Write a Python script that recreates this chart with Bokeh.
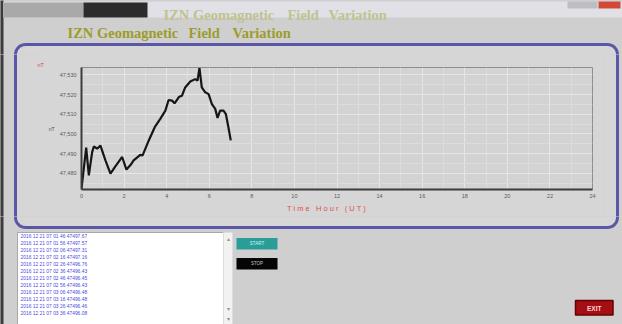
import numpy as np
from bokeh.plotting import figure
from bokeh.models import Range1d, FixedTicker
from bokeh.layouts import column, row
from bokeh.embed import file_html
from bokeh.resources import INLINE
from bokeh.core.properties import value

# ---------------- data ----------------
hours = [0.00, 0.22, 0.345, 0.50, 0.58, 0.735, 0.89, 1.125, 1.36, 1.59, 1.91, 2.11,
         2.30, 2.45, 2.76, 2.87, 3.16, 3.44, 3.70, 3.94, 4.09, 4.25, 4.37, 4.59,
         4.72, 4.87, 5.11, 5.34, 5.45, 5.54, 5.65, 5.81, 5.97, 6.12, 6.28, 6.39,
         6.51, 6.67, 6.78, 6.90, 7.01]
field_nt = [47472.3, 47493.0, 47479.0, 47490.8, 47493.6, 47492.5, 47494.1, 47486.6,
            47479.8, 47483.5, 47488.3, 47481.9, 47484.2, 47486.6, 47489.4, 47489.1,
            47496.7, 47503.4, 47507.6, 47511.8, 47517.2, 47516.9, 47515.5, 47518.9,
            47519.4, 47523.6, 47526.6, 47527.8, 47527.0, 47533.5, 47523.6, 47521.1,
            47520.2, 47515.2, 47512.7, 47508.1, 47511.8, 47511.8, 47510.1, 47503.4,
            47496.7]
x_ticks = [0, 2, 4, 6, 8, 10, 12, 14, 16, 18, 20, 22, 24]
y_ticks = [47480, 47490, 47500, 47510, 47520, 47530]
y_tick_labels = ["47,480", "47,490", "47,500", "47,510", "47,520", "47,530"]
log_lines = [
    "2016 12 21 07 01 46 47497.67",
    "2016 12 21 07 01 56 47497.57",
    "2016 12 21 07 02 06 47497.31",
    "2016 12 21 07 02 16 47497.16",
    "2016 12 21 07 02 26 47496.76",
    "2016 12 21 07 02 36 47496.43",
    "2016 12 21 07 02 46 47496.45",
    "2016 12 21 07 02 56 47496.43",
    "2016 12 21 07 03 06 47496.48",
    "2016 12 21 07 03 16 47496.48",
    "2016 12 21 07 03 26 47496.46",
    "2016 12 21 07 03 36 47496.08",
]
app_title = ["IZN Geomagnetic", "Field", "Variation"]

# ---------------- style ----------------
W, H = 622, 324
WIN_BG = "#cfcfcf"
PANEL_BG = "#d6d6d6"
PLOT_BG = "#d3d3d3"
PANEL_LINE = "#5a58a6"
TITLE_COL = "#9c9c2c"
SERIF = value("Liberation Serif")
SANS = value("Liberation Sans")


def rounded_rect(x0, y0, x1, y1, r, n=10):
    xs, ys = [], []
    corners = [((x0 + r, y0 + r), np.pi, 1.5 * np.pi),
               ((x1 - r, y0 + r), 1.5 * np.pi, 2 * np.pi),
               ((x1 - r, y1 - r), 0.0, 0.5 * np.pi),
               ((x0 + r, y1 - r), 0.5 * np.pi, np.pi)]
    for (cx, cy), a0, a1 in corners:
        t = np.linspace(a0, a1, n)
        xs.extend(cx + r * np.cos(t))
        ys.extend(cy + r * np.sin(t))
    return xs, ys


def draw_shapes(p):
    p.quad(left=-5, right=W + 5, top=-5, bottom=H + 5, fill_color=WIN_BG, line_color=None)
    p.quad(left=-5, right=3, top=-5, bottom=H + 5, fill_color="#3c3c3c", line_color=None)
    # window title bar
    p.quad(left=3, right=W, top=1, bottom=17, fill_color="#e0e0e6", line_color=None)
    p.quad(left=3, right=83, top=2, bottom=17, fill_color="#a9a9a9", line_color=None)
    p.quad(left=83, right=147, top=2, bottom=17, fill_color="#2c2c2c", line_color=None)
    p.quad(left=567, right=597, top=1, bottom=8, fill_color="#bdbdc4", line_color=None)
    p.quad(left=598, right=620, top=1, bottom=8, fill_color="#d24a36", line_color=None)
    # chart panel
    xs, ys = rounded_rect(15, 44, 617, 227, 10)
    p.patch(xs, ys, fill_color=PANEL_BG, line_color=PANEL_LINE, line_width=3)
    # log list box
    p.quad(left=17, right=232, top=232, bottom=330, fill_color="white", line_color="#a8a8a8")
    p.quad(left=223, right=232, top=232, bottom=330, fill_color="#f2f2f2", line_color="#dddddd")
    # buttons
    p.quad(left=236, right=277, top=237.5, bottom=249, fill_color="#2a9d99", line_color=None)
    p.quad(left=236, right=277, top=257.5, bottom=269, fill_color="#050505", line_color=None)
    p.quad(left=575, right=612.5, top=300, bottom=314.5, fill_color="#a30f12",
           line_color="#6a0000", line_width=1.5)


def strip(x0, x1, y0, y1):
    p = figure(width=int(x1 - x0), height=int(y1 - y0),
               x_range=Range1d(x0, x1), y_range=Range1d(y1, y0),
               x_axis_location=None, y_axis_location=None, min_border=0,
               toolbar_location=None, output_backend="svg", title=None,
               background_fill_color=WIN_BG, border_fill_color=WIN_BG,
               outline_line_color=None, frame_align=False)
    p.grid.visible = False
    draw_shapes(p)
    return p


# ---------- top band: window title bar and application title ----------
top_fig = strip(0, W, 0, 54)
for xx, word in zip([163, 287, 328], app_title):
    top_fig.text(x=[xx], y=[14.5], text=[word], text_font=SERIF, text_font_style="bold",
                 text_font_size="14.5px", text_color="#c0c38f", text_baseline="alphabetic")
for xx, word in zip([67, 188, 232], app_title):
    top_fig.text(x=[xx], y=[32.5], text=[word], text_font=SERIF, text_font_style="bold",
                 text_font_size="14.5px", text_color=TITLE_COL, text_baseline="alphabetic")

# ---------- side bands beside the chart ----------
left_fig = strip(0, 45, 54, 216)
left_fig.text(x=[37], y=[64], text=["nT"], text_font=SANS, text_font_size="5.5px",
              text_color="#e04848", text_baseline="middle")
right_fig = strip(604, W, 54, 216)

# ---------- bottom band: log list and buttons ----------
bottom_fig = strip(0, W, 216, 324)
bottom_fig.text(x=[227.5], y=[238], text=["\u25b4"], text_font_size="6px",
                text_color="#909090", text_align="center", text_baseline="middle")
bottom_fig.text(x=[227.5, 227.5], y=[308, 318], text=["\u25be", "\u25be"],
                text_font_size="6px", text_color="#909090", text_align="center",
                text_baseline="middle")
ly = [235.5 + 7 * i for i in range(len(log_lines))]
bottom_fig.text(x=[20] * len(log_lines), y=ly, text=log_lines, text_font=SANS,
                text_font_size="4.9px", text_color="#4b4be0", text_baseline="middle")
bottom_fig.text(x=[256.5], y=[243.3], text=["START"], text_font=SANS,
                text_font_size="4.5px", text_color="#d0f4f2", text_align="center",
                text_baseline="middle")
bottom_fig.text(x=[256.5], y=[263.3], text=["STOP"], text_font=SANS,
                text_font_size="4.5px", text_color="#c8c8c8", text_align="center",
                text_baseline="middle")
bottom_fig.text(x=[593.7], y=[307.5], text=["EXIT"], text_font=SANS,
                text_font_style="bold", text_font_size="6.5px", text_color="#ffd6d6",
                text_align="center", text_baseline="middle")

# ---------------- the chart (window x 45..604, y 54..216) ----------------
chart = figure(width=559, height=162, x_range=Range1d(0, 24),
               y_range=Range1d(47471.8, 47533.7), title=None,
               min_border_left=34, min_border_right=12, min_border_top=13,
               min_border_bottom=27, toolbar_location=None, output_backend="svg",
               background_fill_color=PLOT_BG, border_fill_color=PANEL_BG,
               outline_line_color="#8e8e8e", outline_line_width=1, frame_align=False)
chart.line(hours, field_nt, line_color="#161616", line_width=2.2)

chart.xaxis.ticker = FixedTicker(ticks=x_ticks,
                                 minor_ticks=[t + 1 for t in x_ticks[:-1]])
chart.yaxis.ticker = FixedTicker(ticks=y_ticks,
                                 minor_ticks=[t + 5 for t in y_ticks[:-1]] + [y_ticks[0] - 5])
chart.yaxis.major_label_overrides = {t: s for t, s in zip(y_ticks, y_tick_labels)}
for ax in (chart.xaxis, chart.yaxis):
    ax.axis_line_color = "#3c3c3c"
    ax.axis_line_width = 2
    ax.major_tick_in = 0
    ax.major_tick_out = 0
    ax.minor_tick_in = 0
    ax.minor_tick_out = 0
    ax.major_label_text_font = "Liberation Sans"
    ax.major_label_text_font_size = "5.5px"
    ax.major_label_text_color = "#5a5a5a"
chart.xaxis.major_label_standoff = 4
chart.yaxis.major_label_standoff = 5
chart.xaxis.axis_label = ("T i m e \u00a0\u00a0H o u r \u00a0\u00a0( U T )"
                          + "\u00a0" * 10)
chart.xaxis.axis_label_text_font = "Liberation Sans"
chart.xaxis.axis_label_text_font_style = "normal"
chart.xaxis.axis_label_text_font_size = "7.5px"
chart.xaxis.axis_label_text_color = "#e05050"
chart.xaxis.axis_label_standoff = 3
chart.yaxis.axis_label = "nT"
chart.yaxis.axis_label_orientation = "horizontal"
chart.yaxis.axis_label_text_font = "Liberation Sans"
chart.yaxis.axis_label_text_font_style = "normal"
chart.yaxis.axis_label_text_font_size = "5px"
chart.yaxis.axis_label_text_color = "#505050"
chart.yaxis.axis_label_standoff = 2
chart.grid.grid_line_color = "#e6e6e6"
chart.grid.grid_line_width = 1
chart.grid.minor_grid_line_color = "#dcdcdc"

middle = row(left_fig, chart, right_fig, styles={"background-color": PANEL_BG})
layout = column(top_fig, middle, bottom_fig, styles={"background-color": WIN_BG})
open("out.html", "w").write(file_html(layout, INLINE))
